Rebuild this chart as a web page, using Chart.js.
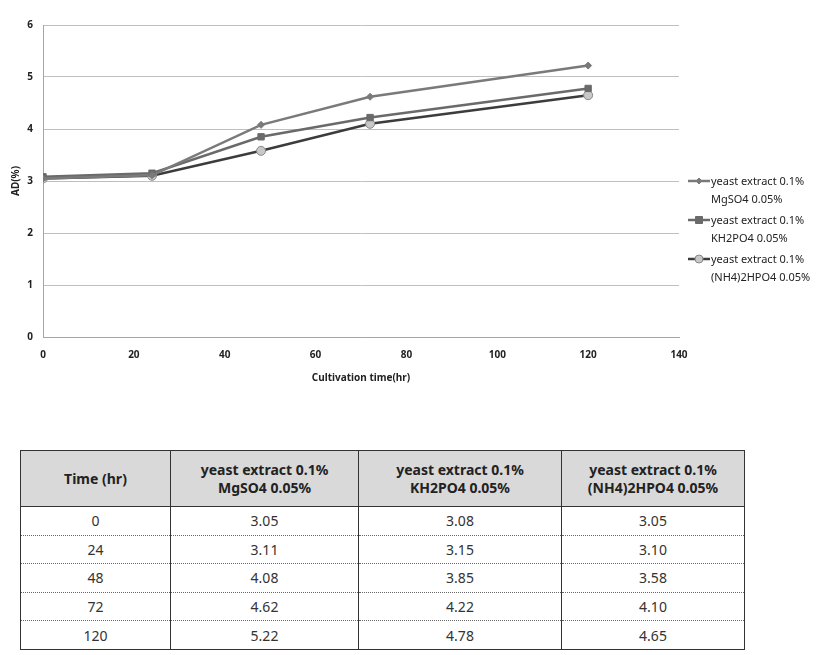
<!DOCTYPE html>
<html>
<head>
<meta charset="utf-8">
<script src="https://cdn.jsdelivr.net/npm/chart.js@4.4.1/dist/chart.umd.min.js"></script>
<style>
  body { margin: 0; background: #fff; font-family: "Noto Sans", "DejaVu Sans", sans-serif; }
  .wrap { position: relative; width: 822px; height: 655px; }
  .chart-box { position: absolute; left: 0; top: 0; width: 822px; height: 400px; }
  .legend { position: absolute; left: 688px; top: 172px; font-size: 11px; color: #222; line-height: 18px; }
  .legend-item { display: flex; align-items: flex-start; margin-bottom: 3px; }
  .legend-item canvas { margin-top: 3px; }
  .legend-item span { padding-left: 1px; }
  table.data { position: absolute; left: 20px; top: 450px; table-layout: fixed;
    border-collapse: collapse; font-size: 14px; color: #333; }
  table.data th { background: #d9d9d9; height: 55px; font-weight: bold; color: #222; line-height: 18px;
    border: 1.5px solid #333; padding: 0; }
  table.data td { height: 27.6px; text-align: center; border-left: 1.5px solid #333; border-right: 1.5px solid #333;
    border-bottom: 1px dotted #666; padding: 0; }
  table.data tr:last-child td { border-bottom: 1.5px solid #333; }
</style>
</head>
<body>
<div class="wrap">
  <div class="chart-box"><canvas id="adChart" width="822" height="400"></canvas></div>
  <div class="legend" id="legend"></div>
  <table class="data" id="dataTable"></table>
</div>
<script>
// data
const times = [0, 24, 48, 72, 120];
const mgso4 = [3.05, 3.11, 4.08, 4.62, 5.22];
const kh2po4 = [3.08, 3.15, 3.85, 4.22, 4.78];
const nh4hpo4 = [3.05, 3.10, 3.58, 4.10, 4.65];
const seriesNames = [
  ["yeast extract 0.1%", "MgSO4 0.05%"],
  ["yeast extract 0.1%", "KH2PO4 0.05%"],
  ["yeast extract 0.1%", "(NH4)2HPO4 0.05%"],
];
const xTicks = [0, 20, 40, 60, 80, 100, 120, 140];
const yTicks = [0, 1, 2, 3, 4, 5, 6];

const styles = [
  { color: "#7a7a7a", point: "rectRot", radius: 3.5, fill: "#7a7a7a", border: "#7a7a7a", width: 2.5 },
  { color: "#6a6a6a", point: "rect", radius: 4.5, fill: "#6a6a6a", border: "#6a6a6a", width: 2.5 },
  { color: "#3c3c3c", point: "circle", radius: 4.5, fill: "#c8c8c8", border: "#888888", width: 2.5 },
];

const allSeries = [mgso4, kh2po4, nh4hpo4];

const datasets = allSeries.map((vals, i) => ({
  label: seriesNames[i].join(" "),
  data: times.map((t, j) => ({ x: t, y: vals[j] })),
  borderColor: styles[i].color,
  borderWidth: styles[i].width,
  pointStyle: styles[i].point,
  pointRadius: styles[i].radius,
  pointBackgroundColor: styles[i].fill,
  pointBorderColor: styles[i].border,
  pointBorderWidth: 1,
  tension: 0,
  fill: false,
}));

const tickFont = { family: "'Noto Sans', sans-serif", size: 10, weight: "bold" };

new Chart(document.getElementById("adChart"), {
  type: "line",
  data: { datasets: datasets },
  options: {
    responsive: false,
    animation: false,
    layout: { padding: { left: 10, right: 143, top: 25, bottom: 12 } },
    plugins: { legend: { display: false }, tooltip: { enabled: false } },
    scales: {
      x: {
        type: "linear",
        min: 0,
        max: 140,
        afterBuildTicks: (s) => { s.ticks = xTicks.map((v) => ({ value: v })); },
        afterFit: (s) => { s.height = 51; },
        grid: { display: false, drawTicks: false },
        border: { color: "#a6a6a6", width: 1 },
        ticks: { color: "#222", font: tickFont, padding: 12, maxRotation: 0 },
        title: { display: true, text: "Cultivation time(hr)", color: "#222", font: tickFont, padding: { top: 6 } },
      },
      y: {
        min: 0,
        max: 6,
        afterBuildTicks: (s) => { s.ticks = yTicks.map((v) => ({ value: v })); },
        afterFit: (s) => { s.width = 33; },
        grid: { color: "#bfbfbf", lineWidth: 1, drawTicks: false },
        border: { color: "#a6a6a6", width: 1 },
        ticks: { color: "#222", font: tickFont, padding: 10 },
        title: { display: true, text: "AD(%)", color: "#222", font: { family: "'Noto Sans', sans-serif", size: 10, weight: "bold" }, padding: 0 },
      },
    },
  },
});

// legend with two-line labels
const legend = document.getElementById("legend");
seriesNames.forEach((lines, i) => {
  const item = document.createElement("div");
  item.className = "legend-item";
  const c = document.createElement("canvas");
  c.width = 22;
  c.height = 12;
  const g = c.getContext("2d");
  const st = styles[i];
  g.strokeStyle = st.color;
  g.lineWidth = st.width;
  g.beginPath();
  g.moveTo(0, 6);
  g.lineTo(22, 6);
  g.stroke();
  g.fillStyle = st.fill;
  g.strokeStyle = st.border;
  g.lineWidth = 1;
  g.beginPath();
  if (st.point === "rectRot") {
    g.moveTo(11, 3); g.lineTo(14, 6); g.lineTo(11, 9); g.lineTo(8, 6); g.closePath();
  } else if (st.point === "rect") {
    g.rect(7.5, 2.5, 7, 7);
  } else {
    g.arc(11, 6, 4, 0, Math.PI * 2);
  }
  g.fill();
  g.stroke();
  item.appendChild(c);
  const txt = document.createElement("span");
  txt.innerHTML = lines.join("<br>");
  item.appendChild(txt);
  legend.appendChild(item);
});

// table below the chart
const table = document.getElementById("dataTable");
const colWidths = [149, 187, 202, 182];
const head = document.createElement("tr");
["Time (hr)"].concat(seriesNames.map((n) => n.join("<br>"))).forEach((h, i) => {
  const th = document.createElement("th");
  th.style.width = colWidths[i] + "px";
  th.innerHTML = h;
  head.appendChild(th);
});
table.appendChild(head);
times.forEach((t, j) => {
  const tr = document.createElement("tr");
  [t].concat(allSeries.map((s) => s[j].toFixed(2))).forEach((v) => {
    const td = document.createElement("td");
    td.textContent = v;
    tr.appendChild(td);
  });
  table.appendChild(tr);
});
</script>
</body>
</html>
